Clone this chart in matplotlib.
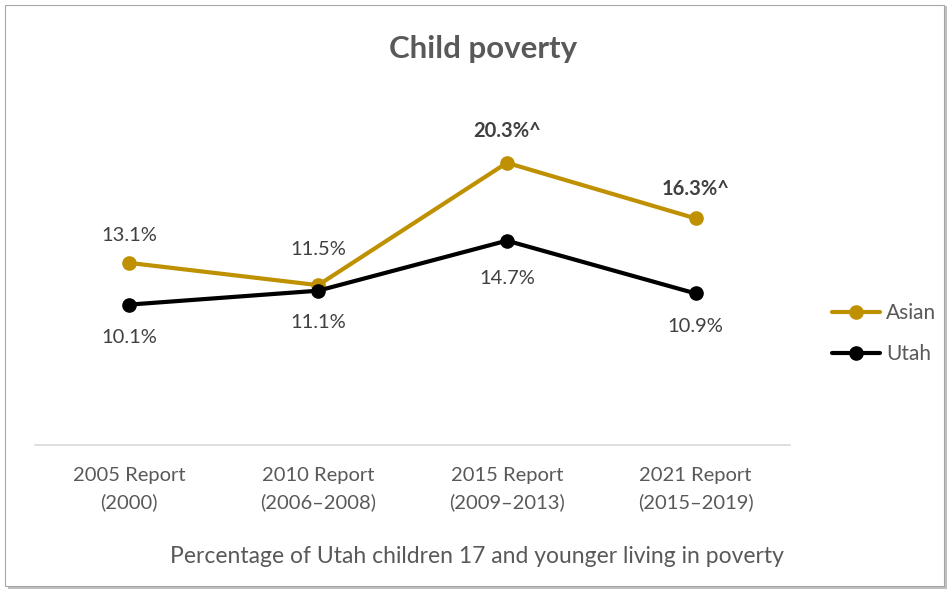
import matplotlib
matplotlib.use("Agg")
import matplotlib.pyplot as plt
from matplotlib.patches import Rectangle

categories = ["2005 Report\n(2000)", "2010 Report\n(2006\u20132008)",
              "2015 Report\n(2009\u20132013)", "2021 Report\n(2015\u20132019)"]
asian = [13.1, 11.5, 20.3, 16.3]
utah = [10.1, 11.1, 14.7, 10.9]
asian_labels = ["13.1%", "11.5%", "20.3%^", "16.3%^"]
utah_labels = ["10.1%", "11.1%", "14.7%", "10.9%"]
asian_bold = [False, False, True, True]

FONT = ["Lato", "DejaVu Sans"]
plt.rcParams['font.family'] = FONT

fig = plt.figure(figsize=(9.53, 5.93), dpi=100)
# border with shadow
fig.patches.append(Rectangle((0.008, 0.006), 0.986, 0.984, transform=fig.transFigure,
                             facecolor="#BFBFBF", edgecolor="none", zorder=-2))
fig.patches.append(Rectangle((0.005, 0.011), 0.986, 0.981, transform=fig.transFigure,
                             facecolor="white", edgecolor="#A6A6A6", linewidth=0.8, zorder=-1))

ax = fig.add_axes([0.0367, 0.2496, 0.7923, 0.586])
ax.set_facecolor("none")
x = list(range(len(categories)))
gold = "#BF9000"
ax.plot(x, asian, color=gold, linewidth=3, marker="o", markersize=9.5, label="Asian",
        solid_capstyle="round", zorder=3, clip_on=False)
ax.plot(x, utah, color="black", linewidth=3, marker="o", markersize=9.5, label="Utah",
        solid_capstyle="round", zorder=4, clip_on=False)

ax.set_xlim(-0.5, 3.5)
ax.set_ylim(0, 25)
ax.set_yticks([])
ax.set_xticks(x)
ax.set_xticklabels(categories, fontsize=14.5, color="#595959", linespacing=1.6)
ax.tick_params(axis="x", length=0, pad=16)
for s in ["top", "right", "left"]:
    ax.spines[s].set_visible(False)
ax.spines["bottom"].set_color("#D9D9D9")
ax.spines["bottom"].set_linewidth(1.2)

up_off = [20, 26, 23, 21]
dn_off = [24, 23, 27, 24]
for i in x:
    ax.annotate(asian_labels[i], (x[i], asian[i]), xytext=(0, up_off[i]), textcoords="offset points",
                ha="center", va="center", fontsize=14.5, color="#404040",
                fontweight="bold" if asian_bold[i] else "normal")
    ax.annotate(utah_labels[i], (x[i], utah[i]), xytext=(0, -dn_off[i]), textcoords="offset points",
                ha="center", va="center", fontsize=14.5, color="#404040")

fig.text(0.507, 0.918, "Child poverty", ha="center", va="center", fontsize=22.5,
         fontweight="bold", color="#595959")
fig.text(0.5005, 0.061, "Percentage of Utah children 17 and younger living in poverty",
         ha="center", va="center", fontsize=16.5, color="#595959")

leg = fig.legend(loc="center left", bbox_to_anchor=(0.8536, 0.437), frameon=False,
                 fontsize=15, labelcolor="#595959", handlelength=2.3, labelspacing=1.0,
                 handletextpad=0.3)

fig.savefig("out.png", dpi=100)
